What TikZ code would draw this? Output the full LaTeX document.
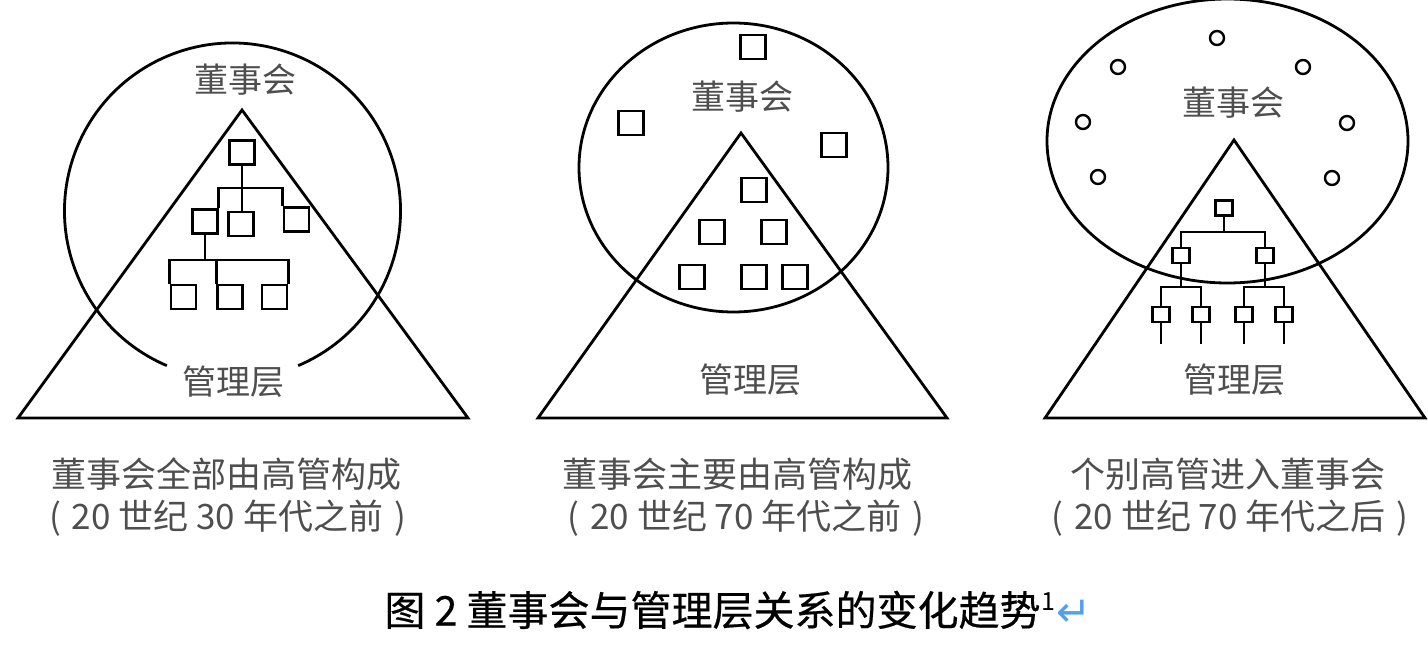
\documentclass[tikz,border=0pt]{standalone}
\usepackage{fontspec}
\setmainfont{Noto Sans CJK SC}
\newfontfamily\titlefont[FakeBold=0.5]{Noto Sans CJK SC}
\newfontfamily\arrowfont{DejaVu Sans}
\definecolor{labelgray}{RGB}{78,78,78}
\definecolor{retblue}{RGB}{80,160,235}
\newcommand{\pgap}{\hspace{11pt}}
\tikzset{
  shapeline/.style={line width=2.8pt, line join=miter},
  orgline/.style={line width=2.8pt},
  bigbox/.style={draw, line width=2.7pt, rectangle, minimum width=25pt, minimum height=24pt, inner sep=0pt},
  smallbox/.style={draw, line width=2.5pt, rectangle, minimum width=17pt, minimum height=15pt, inner sep=0pt},
  dot/.style={draw, line width=2.4pt, circle, minimum size=14pt, inner sep=0pt},
  lbl/.style={text=labelgray, font=\fontsize{34}{34}\selectfont, inner sep=0pt},
  captxt/.style={text=labelgray, font=\fontsize{35}{35}\selectfont, inner sep=0pt},
  ttl/.style={text=black, font=\titlefont\fontsize{41}{41}\selectfont, inner sep=0pt}
}
\begin{document}
\begin{tikzpicture}[x=1pt,y=1pt]
\useasboundingbox (0,0) rectangle (1428,-650);
\clip (0,0) rectangle (1428,-650);

% ---------------- Panel 1 ----------------
\draw[shapeline] ([shift={(-67:168)}]232.5,-211) arc[start angle=-67, end angle=247, radius=168];
\draw[shapeline] (242,-110) -- (18,-418) -- (468,-418) -- cycle;
\node[bigbox] (t1) at (242,-152.5) {};
\node[bigbox] (m1a) at (205,-221.5) {};
\node[bigbox] (m1b) at (241,-224) {};
\node[bigbox] (m1c) at (296.5,-219.5) {};
\node[bigbox] (b1a) at (183.5,-297) {};
\node[bigbox] (b1b) at (230,-297) {};
\node[bigbox] (b1c) at (274.5,-297) {};
\coordinate (j1) at (241,-188);
\coordinate (j2) at (205,-260);
\draw[orgline] (t1.south) -- (t1.south |- m1b.north);
\draw[orgline] (m1a.north east) |- (j1) -| (m1c.north west);
\draw[orgline] (m1a.south) -- (j2);
\draw[orgline] (b1a.north west) -- (b1a.north west |- j2) -- (b1c.north east |- j2) -- (b1c.north east);
\draw[orgline] (b1b.north west) -- (b1b.north west |- j2);
\node[lbl] (board1) at (245,-80) {董事会};
\node[lbl] (mgmt1) at (233,-382) {管理层};

% ---------------- Panel 2 ----------------
\draw[shapeline] (733.5,-167.5) ellipse[x radius=154.5, y radius=144.5];
\draw[shapeline] (741,-133) -- (538,-418) -- (947,-418) -- cycle;
\node[bigbox] (p2a) at (753,-47) {};
\node[bigbox] (p2b) at (631,-123) {};
\node[bigbox] (p2c) at (834,-145) {};
\node[bigbox] (p2d) at (754,-190) {};
\node[bigbox] (p2e) at (712,-232) {};
\node[bigbox] (p2f) at (774,-232) {};
\node[bigbox] (p2g) at (692,-277) {};
\node[bigbox] (p2h) at (754,-277) {};
\node[bigbox] (p2i) at (795,-277) {};
\node[lbl] (board2) at (742,-97) {董事会};
\node[lbl] (mgmt2) at (750,-380) {管理层};

% ---------------- Panel 3 ----------------
\draw[shapeline] (1227.5,-141) ellipse[x radius=180.5, y radius=142];
\draw[shapeline] (1234,-140) -- (1045,-418) -- (1425,-418) -- cycle;
\node[dot] (d1) at (1217,-38) {};
\node[dot] (d2) at (1118,-67) {};
\node[dot] (d3) at (1303,-67) {};
\node[dot] (d4) at (1083,-122) {};
\node[dot] (d5) at (1347,-123) {};
\node[dot] (d6) at (1098,-177) {};
\node[dot] (d7) at (1332,-178) {};
\node[smallbox] (q0) at (1224,-208) {};
\node[smallbox] (q1) at (1181,-255.5) {};
\node[smallbox] (q2) at (1265,-255.5) {};
\node[smallbox] (r1) at (1161,-314.5) {};
\node[smallbox] (r2) at (1201,-314.5) {};
\node[smallbox] (r3) at (1244,-314.5) {};
\node[smallbox] (r4) at (1284,-314.5) {};
\coordinate (k0) at (1224,-232);
\coordinate (k1) at (1181,-287);
\coordinate (k2) at (1265,-287);
\draw[orgline] (q0.south) -- (k0);
\draw[orgline] (q1.north) |- (k0) -| (q2.north);
\draw[orgline] (q1.south) -- (k1);
\draw[orgline] (q2.south) -- (k2);
\draw[orgline] (r1.north) |- (k1) -| (r2.north);
\draw[orgline] (r3.north) |- (k2) -| (r4.north);
\coordinate (e1) at (1161,-344);
\coordinate (e2) at (1201,-344);
\coordinate (e3) at (1244,-344);
\coordinate (e4) at (1284,-344);
\draw[orgline] (r1.south) -- (e1);
\draw[orgline] (r2.south) -- (e2);
\draw[orgline] (r3.south) -- (e3);
\draw[orgline] (r4.south) -- (e4);
\node[lbl] (board3) at (1233,-103) {董事会};
\node[lbl] (mgmt3) at (1234,-380) {管理层};

% ---------------- Captions ----------------
\node[captxt] (c1a) at (226.5,-474) {董事会全部由高管构成};
\node[captxt] (c1b) at (227.5,-518) {(\pgap 20 世纪 30 年代之前\pgap)};
\node[captxt] (c2a) at (737.5,-474) {董事会主要由高管构成};
\node[captxt] (c2b) at (746,-518) {(\pgap 20 世纪 70 年代之前\pgap)};
\node[captxt] (c3a) at (1227.5,-474) {个别高管进入董事会};
\node[captxt] (c3b) at (1230,-518) {(\pgap 20 世纪 70 年代之后\pgap)};

% ---------------- Title ----------------
\node[ttl] (title) at (712.5,-610) {图 2 董事会与管理层关系的变化趋势};
\node[anchor=west, inner sep=0pt, font=\fontsize{25}{25}\selectfont] (sup) at ([xshift=1pt,yshift=8pt]title.east) {1};
\node[anchor=west, inner sep=0pt, text=retblue, font=\arrowfont\fontsize{42}{42}\selectfont] (ret) at ([xshift=0pt,yshift=-11pt]sup.east) {↵};
\end{tikzpicture}
\end{document}
